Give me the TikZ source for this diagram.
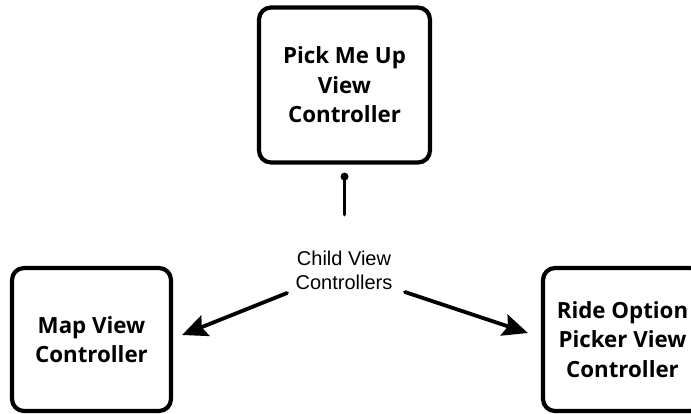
\documentclass[tikz,border=0pt]{standalone}
\usepackage{fontspec}
\setmainfont{Open Sans}
\newfontfamily\labelfont{Liberation Sans}
\usetikzlibrary{arrows.meta,calc}
\begin{document}
\begin{tikzpicture}[x=1pt,y=-1pt,
  vcbox/.style={draw=black,line width=4.2pt,rounded corners=12pt,inner sep=0pt,
    align=center,font=\fontsize{22.3}{29.5}\selectfont\bfseries},
  conn/.style={line width=3.8pt,line cap=round},
  arr/.style={conn,-{Stealth[length=25pt,width=22pt,inset=4pt]}},
  lbl/.style={align=center,font=\labelfont\fontsize{20}{24}\selectfont}]
\useasboundingbox (0,0) rectangle (691,413);
\begin{scope}
\clip (0,0) rectangle (691,413);
\node[vcbox,minimum width=171pt,minimum height=155pt] (top) at (344.5,85) {Pick Me Up\\View\\Controller};
\node[vcbox,minimum width=159pt,minimum height=143pt] (map) at (91.5,339.5) {Map View\\Controller};
\node[vcbox,minimum width=159pt,minimum height=143pt] (ride) at (622.5,339.5) {Ride Option\\Picker View\\Controller};
\node[lbl] (child) at (344,270) {Child View\\Controllers};
\coordinate (stemtop) at ($(top.south)+(0,12)$);
\coordinate (stembot) at ($(top.south)+(0,50)$);
\draw[conn] (stemtop) -- (stembot);
\fill (stemtop) circle (4pt);
\coordinate (lstart) at (287,293);
\coordinate (rstart) at (405,292);
\draw[arr] (lstart) -- ($(map.east)+(9,-4.5)$);
\draw[arr] (rstart) -- ($(ride.west)+(-13,-6.5)$);
\end{scope}
\end{tikzpicture}
\end{document}
